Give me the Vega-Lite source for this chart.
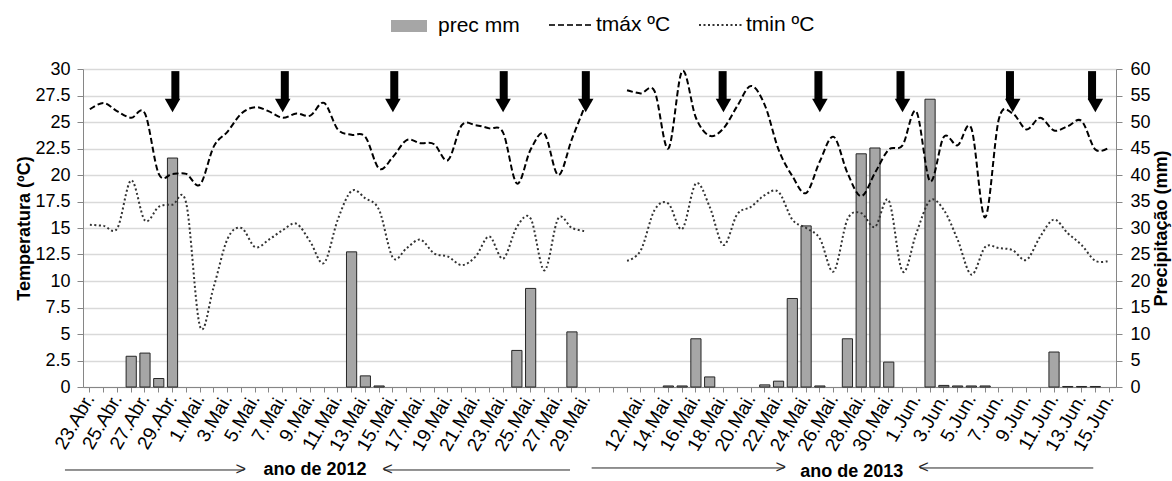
{
  "$schema": "https://vega.github.io/schema/vega-lite/v6.json",
  "width": 1033,
  "height": 318,
  "autosize": {"type": "none"},
  "padding": {"left": 83, "top": 69, "right": 56, "bottom": 94},
  "background": "white",
  "config": {
    "font": "Liberation Sans",
    "view": {"stroke": null},
    "axis": {"labelFont": "Liberation Sans", "titleFont": "Liberation Sans", "labelColor": "black", "titleColor": "black"},
    "legend": {"layout": {"top": {"anchor": "middle", "direction": "horizontal", "margin": 28}}}
  },
  "datasets": {
    "met": [
      {"d": "2012-04-23", "prec": 0, "tmax": 26.2, "tmin": 15.3},
      {"d": "2012-04-24", "prec": 0, "tmax": 26.8, "tmin": 15.2},
      {"d": "2012-04-25", "prec": 0, "tmax": 26.0, "tmin": 15.0},
      {"d": "2012-04-26", "prec": 5.8, "tmax": 25.4, "tmin": 19.5},
      {"d": "2012-04-27", "prec": 6.4, "tmax": 25.8, "tmin": 15.7},
      {"d": "2012-04-28", "prec": 1.6, "tmax": 20.1, "tmin": 17.0},
      {"d": "2012-04-29", "prec": 43.2, "tmax": 20.1, "tmin": 17.2},
      {"d": "2012-04-30", "prec": 0, "tmax": 20.1, "tmin": 17.3},
      {"d": "2012-05-01", "prec": 0, "tmax": 19.1, "tmin": 5.7},
      {"d": "2012-05-02", "prec": 0, "tmax": 22.7, "tmin": 9.5},
      {"d": "2012-05-03", "prec": 0, "tmax": 24.1, "tmin": 14.0},
      {"d": "2012-05-04", "prec": 0, "tmax": 25.8, "tmin": 15.0},
      {"d": "2012-05-05", "prec": 0, "tmax": 26.4, "tmin": 13.2},
      {"d": "2012-05-06", "prec": 0, "tmax": 26.0, "tmin": 13.9},
      {"d": "2012-05-07", "prec": 0, "tmax": 25.4, "tmin": 14.8},
      {"d": "2012-05-08", "prec": 0, "tmax": 25.8, "tmin": 15.4},
      {"d": "2012-05-09", "prec": 0, "tmax": 25.6, "tmin": 13.7},
      {"d": "2012-05-10", "prec": 0, "tmax": 26.8, "tmin": 11.7},
      {"d": "2012-05-11", "prec": 0, "tmax": 24.3, "tmin": 15.8},
      {"d": "2012-05-12", "prec": 25.5, "tmax": 23.8, "tmin": 18.5},
      {"d": "2012-05-13", "prec": 2.1, "tmax": 23.6, "tmin": 17.8},
      {"d": "2012-05-14", "prec": 0.2, "tmax": 20.6, "tmin": 16.7},
      {"d": "2012-05-15", "prec": 0, "tmax": 21.7, "tmin": 12.2},
      {"d": "2012-05-16", "prec": 0, "tmax": 23.3, "tmin": 13.1},
      {"d": "2012-05-17", "prec": 0, "tmax": 23.0, "tmin": 13.9},
      {"d": "2012-05-18", "prec": 0, "tmax": 22.9, "tmin": 12.6},
      {"d": "2012-05-19", "prec": 0, "tmax": 21.4, "tmin": 12.3},
      {"d": "2012-05-20", "prec": 0, "tmax": 24.7, "tmin": 11.5},
      {"d": "2012-05-21", "prec": 0, "tmax": 24.7, "tmin": 12.3},
      {"d": "2012-05-22", "prec": 0, "tmax": 24.4, "tmin": 14.2},
      {"d": "2012-05-23", "prec": 0, "tmax": 24.0, "tmin": 12.1},
      {"d": "2012-05-24", "prec": 6.9, "tmax": 19.2, "tmin": 15.1},
      {"d": "2012-05-25", "prec": 18.6, "tmax": 22.4, "tmin": 15.9},
      {"d": "2012-05-26", "prec": 0, "tmax": 23.9, "tmin": 11.0},
      {"d": "2012-05-27", "prec": 0, "tmax": 20.0, "tmin": 15.9},
      {"d": "2012-05-28", "prec": 10.4, "tmax": 23.4, "tmin": 15.0},
      {"d": "2012-05-29", "prec": 0, "tmax": 26.7, "tmin": 14.7},
      {"d": "2012-x1", "prec": null, "tmax": null, "tmin": null},
      {"d": "2012-x2", "prec": null, "tmax": null, "tmin": null},
      {"d": "2013-05-11", "prec": 0, "tmax": 28.0, "tmin": 11.9},
      {"d": "2013-05-12", "prec": 0, "tmax": 27.7, "tmin": 12.9},
      {"d": "2013-05-13", "prec": 0, "tmax": 27.9, "tmin": 16.7},
      {"d": "2013-05-14", "prec": 0.2, "tmax": 22.5, "tmin": 17.3},
      {"d": "2013-05-15", "prec": 0.2, "tmax": 29.8, "tmin": 14.9},
      {"d": "2013-05-16", "prec": 9.1, "tmax": 25.4, "tmin": 19.2},
      {"d": "2013-05-17", "prec": 1.9, "tmax": 23.7, "tmin": 17.0},
      {"d": "2013-05-18", "prec": 0, "tmax": 24.4, "tmin": 13.4},
      {"d": "2013-05-19", "prec": 0, "tmax": 26.5, "tmin": 16.3},
      {"d": "2013-05-20", "prec": 0, "tmax": 28.4, "tmin": 17.0},
      {"d": "2013-05-21", "prec": 0.4, "tmax": 26.6, "tmin": 18.1},
      {"d": "2013-05-22", "prec": 1.1, "tmax": 22.4, "tmin": 18.4},
      {"d": "2013-05-23", "prec": 16.7, "tmax": 19.9, "tmin": 15.8},
      {"d": "2013-05-24", "prec": 30.4, "tmax": 18.3, "tmin": 15.0},
      {"d": "2013-05-25", "prec": 0.2, "tmax": 21.3, "tmin": 14.0},
      {"d": "2013-05-26", "prec": 0, "tmax": 23.6, "tmin": 10.9},
      {"d": "2013-05-27", "prec": 9.1, "tmax": 20.2, "tmin": 15.8},
      {"d": "2013-05-28", "prec": 44.0, "tmax": 18.0, "tmin": 16.4},
      {"d": "2013-05-29", "prec": 45.1, "tmax": 20.2, "tmin": 15.1},
      {"d": "2013-05-30", "prec": 4.7, "tmax": 22.4, "tmin": 17.6},
      {"d": "2013-05-31", "prec": 0, "tmax": 22.8, "tmin": 10.9},
      {"d": "2013-06-01", "prec": 0, "tmax": 26.0, "tmin": 14.5},
      {"d": "2013-06-02", "prec": 54.3, "tmax": 19.4, "tmin": 17.6},
      {"d": "2013-06-03", "prec": 0.3, "tmax": 23.6, "tmin": 16.7},
      {"d": "2013-06-04", "prec": 0.2, "tmax": 22.8, "tmin": 13.9},
      {"d": "2013-06-05", "prec": 0.2, "tmax": 24.4, "tmin": 10.6},
      {"d": "2013-06-06", "prec": 0.2, "tmax": 16.0, "tmin": 13.2},
      {"d": "2013-06-07", "prec": 0, "tmax": 25.3, "tmin": 13.1},
      {"d": "2013-06-08", "prec": 0, "tmax": 25.8, "tmin": 12.9},
      {"d": "2013-06-09", "prec": 0, "tmax": 24.3, "tmin": 12.0},
      {"d": "2013-06-10", "prec": 0, "tmax": 25.4, "tmin": 14.2},
      {"d": "2013-06-11", "prec": 6.6, "tmax": 24.2, "tmin": 15.8},
      {"d": "2013-06-12", "prec": 0.1, "tmax": 24.6, "tmin": 14.5},
      {"d": "2013-06-13", "prec": 0.1, "tmax": 25.1, "tmin": 13.4},
      {"d": "2013-06-14", "prec": 0.1, "tmax": 22.4, "tmin": 11.9},
      {"d": "2013-06-15", "prec": 0, "tmax": 22.6, "tmin": 11.9}
    ],
    "arrows": [
      {"d": "2012-04-29"}, {"d": "2012-05-07"}, {"d": "2012-05-15"}, {"d": "2012-05-23"}, {"d": "2012-05-29"},
      {"d": "2013-05-18"}, {"d": "2013-05-25"}, {"d": "2013-05-31"}, {"d": "2013-06-08"}, {"d": "2013-06-14"}
    ]
  },
  "layer": [
    {
      "data": {"name": "met"},
      "transform": [{"filter": "datum.prec > 0"}],
      "mark": {"type": "bar", "stroke": "#262626", "strokeWidth": 1},
      "encoding": {
        "x": {
          "field": "d", "type": "ordinal",
          "scale": {"domain": ["2012-04-23","2012-04-24","2012-04-25","2012-04-26","2012-04-27","2012-04-28","2012-04-29","2012-04-30","2012-05-01","2012-05-02","2012-05-03","2012-05-04","2012-05-05","2012-05-06","2012-05-07","2012-05-08","2012-05-09","2012-05-10","2012-05-11","2012-05-12","2012-05-13","2012-05-14","2012-05-15","2012-05-16","2012-05-17","2012-05-18","2012-05-19","2012-05-20","2012-05-21","2012-05-22","2012-05-23","2012-05-24","2012-05-25","2012-05-26","2012-05-27","2012-05-28","2012-05-29","2012-x1","2012-x2","2013-05-11","2013-05-12","2013-05-13","2013-05-14","2013-05-15","2013-05-16","2013-05-17","2013-05-18","2013-05-19","2013-05-20","2013-05-21","2013-05-22","2013-05-23","2013-05-24","2013-05-25","2013-05-26","2013-05-27","2013-05-28","2013-05-29","2013-05-30","2013-05-31","2013-06-01","2013-06-02","2013-06-03","2013-06-04","2013-06-05","2013-06-06","2013-06-07","2013-06-08","2013-06-09","2013-06-10","2013-06-11","2013-06-12","2013-06-13","2013-06-14","2013-06-15"], "paddingInner": 0.26, "paddingOuter": 0.13},
          "axis": {
            "title": null,
            "labelExpr": "length(datum.value) != 10 ? '' : (((substring(datum.value,0,4) == '2012' || substring(datum.value,5,7) == '06') ? toNumber(substring(datum.value,8,10)) % 2 == 1 : toNumber(substring(datum.value,8,10)) % 2 == 0) ? toNumber(substring(datum.value,8,10)) + '.' + (substring(datum.value,5,7) == '04' ? 'Abr.' : (substring(datum.value,5,7) == '05' ? 'Mai.' : 'Jun.')) : '')",
            "labelAngle": -60,
            "labelFontSize": 19,
            "labelOverlap": false,
            "labelBound": false,
            "labelPadding": 3,
            "tickSize": 5,
            "tickColor": "#868686",
            "domainColor": "#868686",
            "grid": false
          }
        },
        "y": {
          "field": "prec", "type": "quantitative",
          "scale": {"domain": [0, 60], "nice": false},
          "axis": {
            "orient": "right",
            "values": [0, 5, 10, 15, 20, 25, 30, 35, 40, 45, 50, 55, 60],
            "grid": false,
            "title": "Precipitação (mm)",
            "titleFontSize": 18,
            "titleFontWeight": "bold",
            "titleAngle": 270,
            "titleBaseline": "top",
            "titlePadding": 2,
            "labelFontSize": 18,
            "labelPadding": 8,
            "tickSize": 6,
            "tickColor": "#868686",
            "domainColor": "#868686"
          }
        },
        "fill": {
          "datum": "prec mm", "type": "nominal",
          "scale": {"domain": ["prec mm"], "range": ["#a6a6a6"]},
          "legend": {
            "orient": "top",
            "direction": "horizontal",
            "title": null,
            "offset": 19,
            "symbolType": "stroke",
            "symbolSize": 1296,
            "symbolStrokeWidth": 12,
            "symbolStrokeColor": "#a6a6a6",
            "labelFontSize": 21,
            "labelFont": "Liberation Sans",
            "labelColor": "black",
            "labelOffset": 5,
            "encode": {"symbols": {"update": {"stroke": {"value": "#a6a6a6"}}}}
          }
        }
      }
    },
    {
      "data": {"name": "met"},
      "mark": {"type": "line", "color": "black", "strokeWidth": 2, "interpolate": "cardinal"},
      "encoding": {
        "x": {"field": "d", "type": "ordinal", "axis": null,
          "scale": {"domain": ["2012-04-23","2012-04-24","2012-04-25","2012-04-26","2012-04-27","2012-04-28","2012-04-29","2012-04-30","2012-05-01","2012-05-02","2012-05-03","2012-05-04","2012-05-05","2012-05-06","2012-05-07","2012-05-08","2012-05-09","2012-05-10","2012-05-11","2012-05-12","2012-05-13","2012-05-14","2012-05-15","2012-05-16","2012-05-17","2012-05-18","2012-05-19","2012-05-20","2012-05-21","2012-05-22","2012-05-23","2012-05-24","2012-05-25","2012-05-26","2012-05-27","2012-05-28","2012-05-29","2012-x1","2012-x2","2013-05-11","2013-05-12","2013-05-13","2013-05-14","2013-05-15","2013-05-16","2013-05-17","2013-05-18","2013-05-19","2013-05-20","2013-05-21","2013-05-22","2013-05-23","2013-05-24","2013-05-25","2013-05-26","2013-05-27","2013-05-28","2013-05-29","2013-05-30","2013-05-31","2013-06-01","2013-06-02","2013-06-03","2013-06-04","2013-06-05","2013-06-06","2013-06-07","2013-06-08","2013-06-09","2013-06-10","2013-06-11","2013-06-12","2013-06-13","2013-06-14","2013-06-15"], "padding": 0.5}},
        "y": {
          "field": "tmax", "type": "quantitative",
          "scale": {"domain": [0, 30], "nice": false},
          "axis": {
            "orient": "left",
            "values": [0, 2.5, 5, 7.5, 10, 12.5, 15, 17.5, 20, 22.5, 25, 27.5, 30],
            "format": ".1~f",
            "grid": true,
            "gridColor": "#d9d9d9",
            "gridWidth": 1.5,
            "title": "Temperatura (ºC)",
            "titleFontSize": 18,
            "titleFontWeight": "bold",
            "titlePadding": 1,
            "labelFontSize": 18,
            "labelPadding": 7,
            "tickSize": 6,
            "tickColor": "#868686",
            "domainColor": "#868686"
          }
        },
        "strokeDash": {
          "datum": "tmáx ºC", "type": "nominal",
          "scale": {"domain": ["tmáx ºC", "tmin ºC"], "range": [[6, 3], [2, 2.5]]},
          "legend": {
            "orient": "top",
            "direction": "horizontal",
            "title": null,
            "offset": 19,
            "symbolType": "stroke",
            "symbolSize": 1936,
            "symbolStrokeWidth": 2,
            "symbolStrokeColor": "black",
            "labelFontSize": 21,
            "labelFont": "Liberation Sans",
            "labelColor": "black",
            "labelOffset": 2,
            "columnPadding": 24
          }
        }
      }
    },
    {
      "data": {"name": "met"},
      "mark": {"type": "line", "color": "#333333", "strokeWidth": 2, "interpolate": "cardinal"},
      "encoding": {
        "x": {"field": "d", "type": "ordinal", "axis": null,
          "scale": {"domain": ["2012-04-23","2012-04-24","2012-04-25","2012-04-26","2012-04-27","2012-04-28","2012-04-29","2012-04-30","2012-05-01","2012-05-02","2012-05-03","2012-05-04","2012-05-05","2012-05-06","2012-05-07","2012-05-08","2012-05-09","2012-05-10","2012-05-11","2012-05-12","2012-05-13","2012-05-14","2012-05-15","2012-05-16","2012-05-17","2012-05-18","2012-05-19","2012-05-20","2012-05-21","2012-05-22","2012-05-23","2012-05-24","2012-05-25","2012-05-26","2012-05-27","2012-05-28","2012-05-29","2012-x1","2012-x2","2013-05-11","2013-05-12","2013-05-13","2013-05-14","2013-05-15","2013-05-16","2013-05-17","2013-05-18","2013-05-19","2013-05-20","2013-05-21","2013-05-22","2013-05-23","2013-05-24","2013-05-25","2013-05-26","2013-05-27","2013-05-28","2013-05-29","2013-05-30","2013-05-31","2013-06-01","2013-06-02","2013-06-03","2013-06-04","2013-06-05","2013-06-06","2013-06-07","2013-06-08","2013-06-09","2013-06-10","2013-06-11","2013-06-12","2013-06-13","2013-06-14","2013-06-15"], "padding": 0.5}},
        "y": {"field": "tmin", "type": "quantitative", "scale": {"domain": [0, 30], "nice": false}, "axis": null},
        "strokeDash": {"datum": "tmin ºC", "type": "nominal"}
      }
    },
    {
      "data": {"name": "arrows"},
      "mark": {"type": "rule", "color": "black", "strokeWidth": 8},
      "encoding": {
        "x": {"field": "d", "type": "ordinal", "axis": null,
          "scale": {"domain": ["2012-04-23","2012-04-24","2012-04-25","2012-04-26","2012-04-27","2012-04-28","2012-04-29","2012-04-30","2012-05-01","2012-05-02","2012-05-03","2012-05-04","2012-05-05","2012-05-06","2012-05-07","2012-05-08","2012-05-09","2012-05-10","2012-05-11","2012-05-12","2012-05-13","2012-05-14","2012-05-15","2012-05-16","2012-05-17","2012-05-18","2012-05-19","2012-05-20","2012-05-21","2012-05-22","2012-05-23","2012-05-24","2012-05-25","2012-05-26","2012-05-27","2012-05-28","2012-05-29","2012-x1","2012-x2","2013-05-11","2013-05-12","2013-05-13","2013-05-14","2013-05-15","2013-05-16","2013-05-17","2013-05-18","2013-05-19","2013-05-20","2013-05-21","2013-05-22","2013-05-23","2013-05-24","2013-05-25","2013-05-26","2013-05-27","2013-05-28","2013-05-29","2013-05-30","2013-05-31","2013-06-01","2013-06-02","2013-06-03","2013-06-04","2013-06-05","2013-06-06","2013-06-07","2013-06-08","2013-06-09","2013-06-10","2013-06-11","2013-06-12","2013-06-13","2013-06-14","2013-06-15"], "padding": 0.5}},
        "y": {"datum": 29.8, "type": "quantitative", "scale": {"domain": [0, 30], "nice": false}, "axis": null},
        "y2": {"datum": 27.1}
      }
    },
    {
      "data": {"name": "arrows"},
      "mark": {"type": "point", "shape": "triangle-down", "filled": true, "color": "black", "opacity": 1, "size": 240},
      "encoding": {
        "x": {"field": "d", "type": "ordinal", "axis": null,
          "scale": {"domain": ["2012-04-23","2012-04-24","2012-04-25","2012-04-26","2012-04-27","2012-04-28","2012-04-29","2012-04-30","2012-05-01","2012-05-02","2012-05-03","2012-05-04","2012-05-05","2012-05-06","2012-05-07","2012-05-08","2012-05-09","2012-05-10","2012-05-11","2012-05-12","2012-05-13","2012-05-14","2012-05-15","2012-05-16","2012-05-17","2012-05-18","2012-05-19","2012-05-20","2012-05-21","2012-05-22","2012-05-23","2012-05-24","2012-05-25","2012-05-26","2012-05-27","2012-05-28","2012-05-29","2012-x1","2012-x2","2013-05-11","2013-05-12","2013-05-13","2013-05-14","2013-05-15","2013-05-16","2013-05-17","2013-05-18","2013-05-19","2013-05-20","2013-05-21","2013-05-22","2013-05-23","2013-05-24","2013-05-25","2013-05-26","2013-05-27","2013-05-28","2013-05-29","2013-05-30","2013-05-31","2013-06-01","2013-06-02","2013-06-03","2013-06-04","2013-06-05","2013-06-06","2013-06-07","2013-06-08","2013-06-09","2013-06-10","2013-06-11","2013-06-12","2013-06-13","2013-06-14","2013-06-15"], "padding": 0.5}},
        "y": {"datum": 26.56, "type": "quantitative", "scale": {"domain": [0, 30], "nice": false}, "axis": null}
      }
    },
    {
      "data": {"values": [{}]},
      "mark": {"type": "rule", "color": "#262626", "strokeWidth": 1},
      "encoding": {
        "x": {"datum": -1.31, "type": "quantitative", "scale": {"domain": [0, 75], "nice": false, "zero": false}, "axis": null},
        "x2": {"datum": 11.7},
        "y": {"datum": -7.83, "type": "quantitative", "scale": {"domain": [0, 30], "nice": false}, "axis": null}
      }
    },
    {
      "data": {"values": [{}]},
      "mark": {"type": "rule", "color": "#262626", "strokeWidth": 1},
      "encoding": {
        "x": {"datum": 21.85, "type": "quantitative", "scale": {"domain": [0, 75], "nice": false, "zero": false}, "axis": null},
        "x2": {"datum": 35.36},
        "y": {"datum": -7.83, "type": "quantitative", "scale": {"domain": [0, 30], "nice": false}, "axis": null}
      }
    },
    {
      "data": {"values": [{}]},
      "mark": {"type": "rule", "color": "#262626", "strokeWidth": 1},
      "encoding": {
        "x": {"datum": 36.93, "type": "quantitative", "scale": {"domain": [0, 75], "nice": false, "zero": false}, "axis": null},
        "x2": {"datum": 50.9},
        "y": {"datum": -7.64, "type": "quantitative", "scale": {"domain": [0, 30], "nice": false}, "axis": null}
      }
    },
    {
      "data": {"values": [{}]},
      "mark": {"type": "rule", "color": "#262626", "strokeWidth": 1},
      "encoding": {
        "x": {"datum": 60.77, "type": "quantitative", "scale": {"domain": [0, 75], "nice": false, "zero": false}, "axis": null},
        "x2": {"datum": 73.35},
        "y": {"datum": -7.64, "type": "quantitative", "scale": {"domain": [0, 30], "nice": false}, "axis": null}
      }
    },
    {
      "data": {"values": [{}]},
      "mark": {"type": "text", "font": "Liberation Sans", "fontSize": 18, "color": "#262626", "baseline": "middle", "align": "right", "text": ">"},
      "encoding": {
        "x": {"datum": 11.84, "type": "quantitative", "scale": {"domain": [0, 75], "nice": false, "zero": false}, "axis": null},
        "y": {"datum": -7.83, "type": "quantitative", "scale": {"domain": [0, 30], "nice": false}, "axis": null}
      }
    },
    {
      "data": {"values": [{}]},
      "mark": {"type": "text", "font": "Liberation Sans", "fontSize": 18, "color": "#262626", "baseline": "middle", "align": "left", "text": "<"},
      "encoding": {
        "x": {"datum": 21.72, "type": "quantitative", "scale": {"domain": [0, 75], "nice": false, "zero": false}, "axis": null},
        "y": {"datum": -7.83, "type": "quantitative", "scale": {"domain": [0, 30], "nice": false}, "axis": null}
      }
    },
    {
      "data": {"values": [{}]},
      "mark": {"type": "text", "font": "Liberation Sans", "fontSize": 18, "color": "#262626", "baseline": "middle", "align": "right", "text": ">"},
      "encoding": {
        "x": {"datum": 51.05, "type": "quantitative", "scale": {"domain": [0, 75], "nice": false, "zero": false}, "axis": null},
        "y": {"datum": -7.64, "type": "quantitative", "scale": {"domain": [0, 30], "nice": false}, "axis": null}
      }
    },
    {
      "data": {"values": [{}]},
      "mark": {"type": "text", "font": "Liberation Sans", "fontSize": 18, "color": "#262626", "baseline": "middle", "align": "left", "text": "<"},
      "encoding": {
        "x": {"datum": 60.64, "type": "quantitative", "scale": {"domain": [0, 75], "nice": false, "zero": false}, "axis": null},
        "y": {"datum": -7.64, "type": "quantitative", "scale": {"domain": [0, 30], "nice": false}, "axis": null}
      }
    },
    {
      "data": {"values": [{}]},
      "mark": {"type": "text", "font": "Liberation Sans", "fontSize": 18, "fontWeight": "bold", "color": "black", "baseline": "middle", "align": "center", "text": "ano de 2012"},
      "encoding": {
        "x": {"datum": 16.84, "type": "quantitative", "scale": {"domain": [0, 75], "nice": false, "zero": false}, "axis": null},
        "y": {"datum": -7.83, "type": "quantitative", "scale": {"domain": [0, 30], "nice": false}, "axis": null}
      }
    },
    {
      "data": {"values": [{}]},
      "mark": {"type": "text", "font": "Liberation Sans", "fontSize": 18, "fontWeight": "bold", "color": "black", "baseline": "middle", "align": "center", "text": "ano de 2013"},
      "encoding": {
        "x": {"datum": 55.81, "type": "quantitative", "scale": {"domain": [0, 75], "nice": false, "zero": false}, "axis": null},
        "y": {"datum": -8.02, "type": "quantitative", "scale": {"domain": [0, 30], "nice": false}, "axis": null}
      }
    }
  ],
  "resolve": {"scale": {"x": "independent", "y": "independent"}}
}
